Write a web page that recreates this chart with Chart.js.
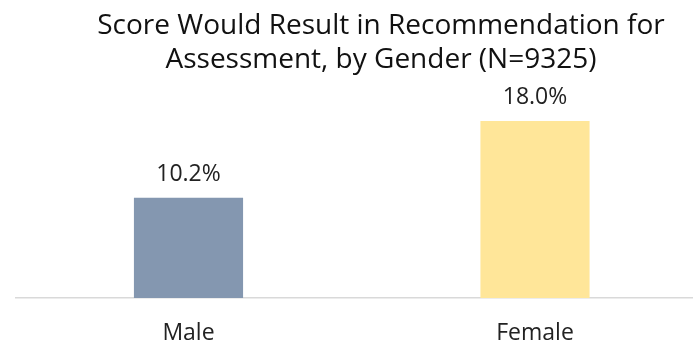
<!DOCTYPE html>
<html>
<head>
<meta charset="utf-8">
<script src="https://cdn.jsdelivr.net/npm/chart.js@4/dist/chart.umd.min.js"></script>
<style>
  html, body { margin: 0; padding: 0; background: #ffffff; overflow: hidden; width: 693px; height: 349px; }
  #wrap { position: absolute; left: 0; top: 0; width: 762px; height: 349px; }
</style>
</head>
<body>
<div id="wrap"><canvas id="c" width="762" height="349"></canvas></div>
<script>
const titleLines = ["Score Would Result in Recommendation for", "Assessment, by Gender (N=9325)"];
const categories = ["Male", "Female"];
const values = [10.2, 18.0];
const barColors = ["#8497B0", "#FFE699"];
const yMin = 0;
const yMax = 20;

const FONT = "'Open Sans', 'Noto Sans', sans-serif";

const valueLabels = {
  id: 'valueLabels',
  afterDatasetsDraw(chart) {
    const ctx = chart.ctx;
    const meta = chart.getDatasetMeta(0);
    ctx.save();
    ctx.font = "23px " + FONT;
    ctx.fillStyle = "#222222";
    ctx.textAlign = "center";
    ctx.textBaseline = "bottom";
    meta.data.forEach((bar, i) => {
      const v = chart.data.datasets[0].data[i];
      ctx.fillText(v.toFixed(1) + "%", bar.x, bar.y - 12);
    });
    ctx.restore();
  }
};

new Chart(document.getElementById('c'), {
  type: 'bar',
  data: {
    labels: categories,
    datasets: [{
      data: values,
      backgroundColor: barColors,
      borderWidth: 0,
      categoryPercentage: 1.0,
      barPercentage: 0.315
    }]
  },
  options: {
    responsive: false,
    devicePixelRatio: 1,
    animation: false,
    layout: { padding: 0 },
    plugins: {
      legend: { display: false },
      tooltip: { enabled: false },
      title: {
        display: true,
        text: titleLines,
        color: "#111111",
        font: { family: FONT, size: 28, weight: 'normal', lineHeight: 1.22 },
        padding: { top: 9, bottom: 24 }
      }
    },
    scales: {
      x: {
        grid: { display: false },
        border: { display: true, color: "#d9d9d9", width: 1.5 },
        ticks: { color: "#222222", font: { family: FONT, size: 23 }, padding: 14 },
        afterFit(scale) { scale.height = 51; }
      },
      y: {
        min: yMin, max: yMax,
        display: true,
        grid: { display: false },
        border: { display: false },
        ticks: { display: false },
        afterFit(scale) { scale.width = 15.25; }
      },
      yRight: {
        position: 'right',
        min: 0, max: 1,
        display: true,
        grid: { display: false },
        border: { display: false },
        ticks: { display: false },
        afterFit(scale) { scale.width = 53.75; }
      }
    }
  },
  plugins: [valueLabels]
});
</script>
</body>
</html>
